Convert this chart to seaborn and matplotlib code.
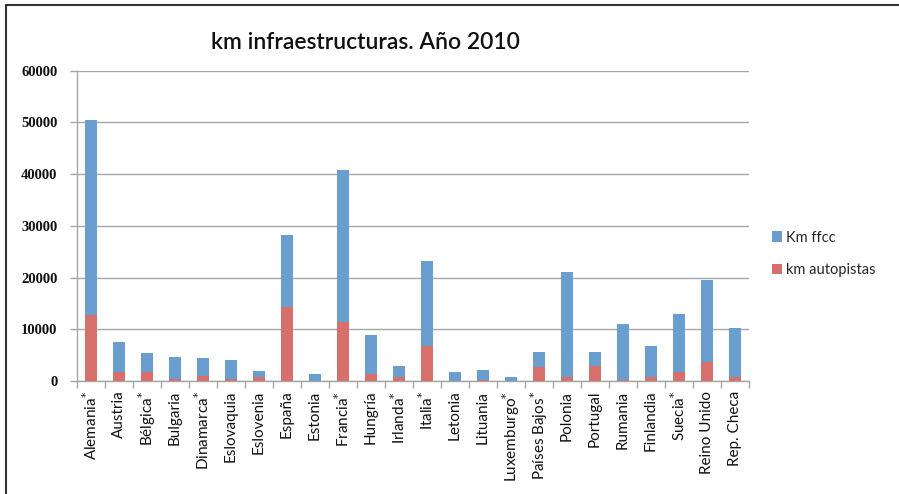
import matplotlib
matplotlib.use("Agg")
import matplotlib.pyplot as plt
import seaborn as sns
import pandas as pd
from matplotlib.lines import Line2D
from matplotlib.patches import Patch

# Kilómetros de infraestructura por país, año 2010
paises = ["Alemania$^{*}$", "Austria", "Bélgica$^{*}$", "Bulgaria", "Dinamarca$^{*}$",
          "Eslovaquia", "Eslovenia", "España", "Estonia", "Francia$^{*}$", "Hungría",
          "Irlanda$^{*}$", "Italia$^{*}$", "Letonia", "Lituania", "Luxemburgo$^{*}$",
          "Países Bajos$^{*}$", "Polonia", "Portugal", "Rumania", "Finlandia",
          "Suecia$^{*}$", "Reino Unido", "Rep. Checa"]
km_autopistas = [12800, 1700, 1800, 400, 1030, 390, 840, 14250, 0, 11480, 1420,
                 840, 6830, 0, 260, 0, 2640, 840, 2840, 260, 840, 1800, 3610, 710]
km_ffcc = [37700, 5800, 3550, 4180, 3350, 3610, 1160, 13990, 1290, 29320, 7480,
           2000, 16440, 1800, 1800, 840, 2900, 20310, 2700, 10830, 5930, 11220,
           15920, 9610]
y_ticks = [0, 10000, 20000, 30000, 40000, 50000, 60000]

AZUL = "#6A9ECF"
ROJO = "#D7706B"
GRIS = "#A6A6A6"

sns.set_theme(style="white")
plt.rcParams["font.family"] = ["Lato", "DejaVu Sans"]

df = pd.DataFrame({"pais": paises, "autopistas": km_autopistas, "ffcc": km_ffcc})
df["total"] = df["autopistas"] + df["ffcc"]

fig = plt.figure(figsize=(8.99, 4.94), dpi=100)
ax = fig.add_axes([0.0857, 0.2287, 0.7475, 0.6282])

# Barras apiladas: total (ffcc encima) y autopistas en la base
sns.barplot(data=df, x="pais", y="total", color=AZUL, width=0.43,
            saturation=1, ax=ax, zorder=3)
sns.barplot(data=df, x="pais", y="autopistas", color=ROJO, width=0.43,
            saturation=1, ax=ax, zorder=4)
for p in ax.patches:
    p.set_edgecolor("none")

n = len(paises)
ax.set_xlim(-0.5, n - 0.5)
ax.set_ylim(0, 60000)
ax.set_yticks(y_ticks)
ax.set_yticklabels([str(v) for v in y_ticks], fontfamily="Liberation Serif",
                   fontsize=10.5, fontweight="bold", color="#111111")
ax.yaxis.grid(True, color=GRIS, linewidth=1.0, zorder=0)
ax.set_axisbelow(True)
ax.set_xlabel("")
ax.set_ylabel("")

ax.set_xticks(range(n))
ax.set_xticklabels(paises, rotation=90, fontsize=11, color="#111111")
ax.set_xticks([i - 0.5 for i in range(n + 1)], minor=True)
ax.tick_params(axis="x", which="major", length=0, pad=7)
ax.tick_params(axis="x", which="minor", length=5, width=1, color=GRIS,
               direction="out", bottom=True)
ax.tick_params(axis="y", which="major", length=5, width=1, color=GRIS,
               direction="out", left=True, pad=9)

for side in ["top", "right"]:
    ax.spines[side].set_visible(False)
for side in ["left", "bottom"]:
    ax.spines[side].set_color(GRIS)
    ax.spines[side].set_linewidth(1)

fig.text(0.407, 0.913, "km infraestructuras. Año 2010", ha="center", va="center",
         fontsize=16.5, fontweight="semibold", color="#111111")

handles = [Patch(facecolor=AZUL, edgecolor="none", label="Km ffcc"),
           Patch(facecolor=ROJO, edgecolor="none", label="km autopistas")]
fig.legend(handles=handles, loc="upper left", bbox_to_anchor=(0.852, 0.545),
           frameon=False, fontsize=10.5, handlelength=0.7, handleheight=0.7,
           handletextpad=0.3, labelspacing=1.25, borderaxespad=0)

# Marco del área del gráfico
fig.add_artist(Line2D([0.0067, 1.0], [0.990, 0.990], color="#333333", lw=1.5,
                      transform=fig.transFigure))
fig.add_artist(Line2D([0.0067, 0.0067], [0.0, 0.990], color="#333333", lw=1.5,
                      transform=fig.transFigure))

fig.savefig("out.png", dpi=100)
